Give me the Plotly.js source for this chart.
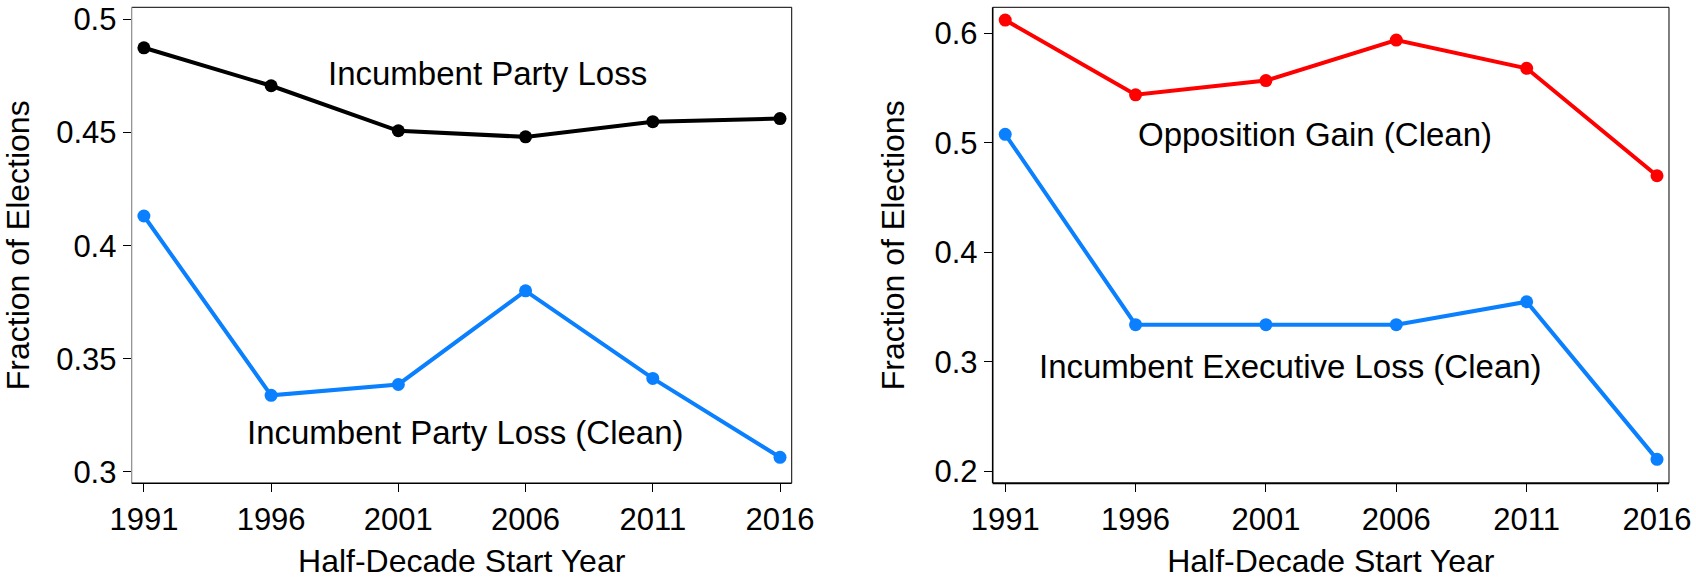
<!DOCTYPE html>
<html>
<head>
<meta charset="utf-8">
<script src="https://cdn.plot.ly/plotly-3.0.1.min.js"></script>
<style>html,body{margin:0;padding:0;background:#fff;}#chart{width:1696px;height:579px;}</style>
</head>
<body>
<div id="chart"></div>
<script>
// Data
const years = [1991, 1996, 2001, 2006, 2011, 2016];
const partyLoss = [0.4875, 0.4707, 0.4508, 0.4481, 0.4548, 0.4562];
const partyLossClean = [0.4131, 0.3338, 0.3386, 0.3800, 0.3413, 0.3064];
const oppositionGainClean = [0.6123, 0.5440, 0.5570, 0.5940, 0.5682, 0.4700];
const execLossClean = [0.5079, 0.3338, 0.3338, 0.3338, 0.3548, 0.2107];

const xTickLabels = ['1991', '1996', '2001', '2006', '2011', '2016'];
const leftYTicks = [0.3, 0.35, 0.4, 0.45, 0.5];
const leftYTickLabels = ['0.3', '0.35', '0.4', '0.45', '0.5'];
const rightYTicks = [0.2, 0.3, 0.4, 0.5, 0.6];
const rightYTickLabels = ['0.2', '0.3', '0.4', '0.5', '0.6'];

const seriesNames = ['Incumbent Party Loss', 'Incumbent Party Loss (Clean)', 'Opposition Gain (Clean)', 'Incumbent Executive Loss (Clean)'];
const labelX = [2004.52, 2003.65, 2002.9, 2001.96];
const labelY = [0.4762, 0.3175, 0.5077, 0.2957];

const BLUE = '#0A80FF', RED = '#FF0000', BLACK = '#000000';
const FONT = 'Liberation Sans, Arial, Helvetica, sans-serif';

function tr(y, color, xa, ya, name) {
  return {x: years, y: y, type: 'scatter', mode: 'lines+markers', name: name,
    xaxis: xa, yaxis: ya, line: {color: color, width: 4}, marker: {color: color, size: 13},
    showlegend: false, hoverinfo: 'skip'};
}

const data = [
  tr(partyLoss, BLACK, 'x', 'y', seriesNames[0]),
  tr(partyLossClean, BLUE, 'x', 'y', seriesNames[1]),
  tr(oppositionGainClean, RED, 'x2', 'y2', seriesNames[2]),
  tr(execLossClean, BLUE, 'x2', 'y2', seriesNames[3])
];

const tickFont = {family: FONT, size: 31, color: '#000'};
const titleFont = {family: FONT, size: 32, color: '#000'};

function xax(domain, anchor) {
  return {domain: domain, anchor: anchor, range: [1990.52, 2016.46], tickvals: years, ticktext: xTickLabels,
    ticks: 'outside', ticklen: 8, tickwidth: 1, tickcolor: '#000', tickfont: tickFont,
    showgrid: false, zeroline: false, showline: false,
    title: {text: 'Half-Decade Start Year', font: titleFont, standoff: 14}};
}
function yax(domain, anchor, range, vals, labels, standoff) {
  return {domain: domain, anchor: anchor, range: range, tickvals: vals, ticktext: labels,
    ticks: 'outside', ticklen: 8, tickwidth: 1, tickcolor: '#000', tickfont: tickFont,
    showgrid: false, zeroline: false, showline: false,
    title: {text: 'Fraction of Elections', font: titleFont, standoff: standoff}};
}

const yDom = [0.16528, 0.98739];
function frame(xr, yr, leftColor, leftW, bottomW) {
  const xd = xr + ' domain', yd = yr + ' domain';
  return [
    {type: 'line', xref: xd, yref: yd, x0: 0, x1: 1, y0: 1, y1: 1, line: {color: '#000', width: 1}},
    {type: 'line', xref: xd, yref: yd, x0: 1, x1: 1, y0: 0, y1: 1, line: {color: '#000', width: 1}},
    {type: 'line', xref: xd, yref: yd, x0: 0, x1: 0, y0: 0, y1: 1, line: {color: leftColor, width: leftW}},
    {type: 'line', xref: xd, yref: yd, x0: 0, x1: 1, y0: 0, y1: 0, line: {color: '#000', width: bottomW}}
  ];
}

const annotations = seriesNames.map((t, i) => ({
  text: t, x: labelX[i], y: labelY[i], xref: i < 2 ? 'x' : 'x2', yref: i < 2 ? 'y' : 'y2',
  showarrow: false, font: {family: FONT, size: 33, color: '#000'}, xanchor: 'center', yanchor: 'middle'
}));

const layout = {
  width: 1696, height: 579,
  margin: {l: 0, r: 0, t: 0, b: 0},
  paper_bgcolor: '#fff', plot_bgcolor: '#fff',
  font: {family: FONT, color: '#000'},
  xaxis: xax([0.07765, 0.46681], 'y'),
  yaxis: yax(yDom, 'x', [0.2949, 0.5054], leftYTicks, leftYTickLabels, 18),
  xaxis2: xax([0.58532, 0.98408], 'y2'),
  yaxis2: yax(yDom, 'x2', [0.1888, 0.624], rightYTicks, rightYTickLabels, 20),
  shapes: frame('x', 'y', '#8a8a8a', 1.2, 1.6).concat(frame('x2', 'y2', '#000', 1.6, 2)),
  annotations: annotations
};

Plotly.newPlot('chart', data, layout, {staticPlot: true, displayModeBar: false});
</script>
</body>
</html>
